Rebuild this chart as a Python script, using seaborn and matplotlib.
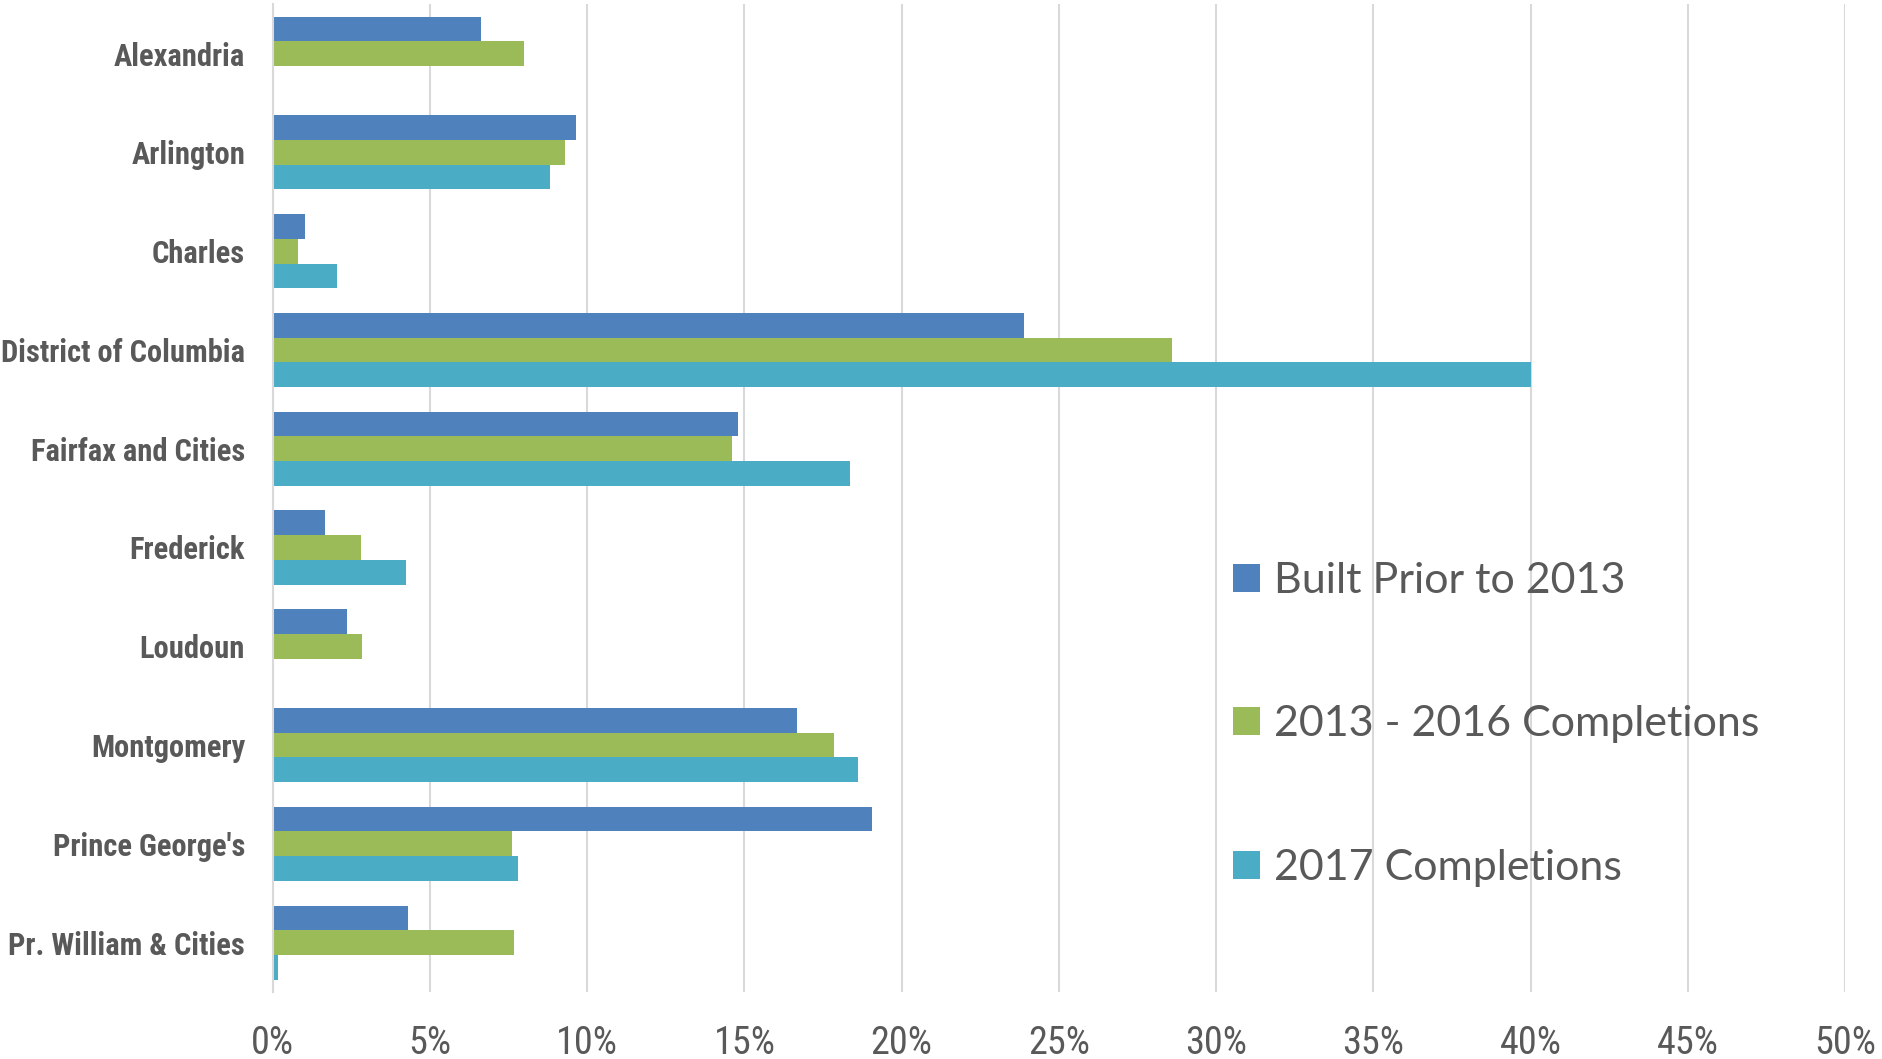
import pandas as pd
import matplotlib
matplotlib.use("Agg")
import matplotlib.pyplot as plt
import seaborn as sns
from matplotlib import font_manager
from matplotlib.ticker import PercentFormatter

# data (share of units, %)
counties = ["Alexandria", "Arlington", "Charles", "District of Columbia",
            "Fairfax and Cities", "Frederick", "Loudoun", "Montgomery",
            "Prince George's", "Pr. William & Cities"]
series = ["Built Prior to 2013", "2013 - 2016 Completions", "2017 Completions"]
built_prior = [6.63, 9.63, 1.01, 23.9, 14.8, 1.65, 2.36, 16.67, 19.06, 4.31]
completions_13_16 = [8.0, 9.30, 0.81, 28.6, 14.6, 2.79, 2.82, 17.84, 7.62, 7.67]
completions_17 = [None, 8.83, 2.03, 40.0, 18.35, 4.22, None, 18.6, 7.81, 0.16]
colors = ["#4F81BD", "#9BBB59", "#4BACC6"]

df = pd.DataFrame({
    "county": counties * 3,
    "series": [s for s in series for _ in counties],
    "share": built_prior + completions_13_16 + completions_17,
}).dropna()


def pick_font(candidates, weight="normal"):
    for name in candidates:
        try:
            font_manager.findfont(font_manager.FontProperties(family=name, weight=weight),
                                  fallback_to_default=False)
            return name
        except ValueError:
            continue
    return "DejaVu Sans"


narrow = pick_font(["Liberation Sans Narrow", "Roboto Condensed", "Open Sans Condensed",
                    "Roboto", "Liberation Sans"], weight="bold")
narrow_light = pick_font(["Liberation Sans Narrow", "Roboto Condensed", "Roboto", "Lato"])

sns.set_style("white")
text_color = "#595959"

fig = plt.figure(figsize=(18.83, 10.59), dpi=100)
ax = fig.add_axes([0.1449, 0.0633, 0.8349, 0.9327])

sns.barplot(data=df, x="share", y="county", hue="series", order=counties,
            hue_order=series, palette=colors, orient="h", width=0.75,
            saturation=1, edgecolor="none", ax=ax)

ax.set_xlim(0, 50)
ax.set_ylim(9.5, -0.5)
ax.set_xticks(range(0, 51, 5))
ax.xaxis.set_major_formatter(PercentFormatter(decimals=0))
ax.grid(axis="x", color="#D9D9D9", linewidth=1.5)
ax.set_axisbelow(True)
for side in ["top", "right", "bottom"]:
    ax.spines[side].set_visible(False)
ax.spines["left"].set_color("#D9D9D9")
ax.spines["left"].set_linewidth(1.5)
ax.set_xlabel("")
ax.set_ylabel("")
ax.tick_params(axis="both", length=0)
ax.tick_params(axis="x", pad=24, labelsize=27.5, labelcolor=text_color,
               labelfontfamily=narrow_light)

# shrink the bold labels until the longest one fits the left margin (~242 px)
label_size = 29
renderer = fig.canvas.get_renderer()
while label_size > 12:
    probe = fig.text(0, 0, "District of Columbia", family=narrow, weight="bold",
                     size=label_size)
    width = probe.get_window_extent(renderer).width
    probe.remove()
    if width <= 244:
        break
    label_size -= 0.5

ax.set_yticks(range(len(counties)))
ax.set_yticklabels(counties, family=narrow, fontweight="bold", fontsize=label_size,
                   color=text_color)
ax.tick_params(axis="y", pad=20)

handles, labels = ax.get_legend_handles_labels()
ax.legend(handles, labels, loc="center left", bbox_to_anchor=(0.655, 0.316),
          bbox_transform=fig.transFigure, frameon=False, borderpad=0,
          borderaxespad=0, handlelength=0.62, handleheight=0.62,
          handletextpad=0.33, labelspacing=2.45,
          prop={"family": "Lato", "size": 31}, labelcolor=text_color)

fig.savefig("out.png", dpi=100)
